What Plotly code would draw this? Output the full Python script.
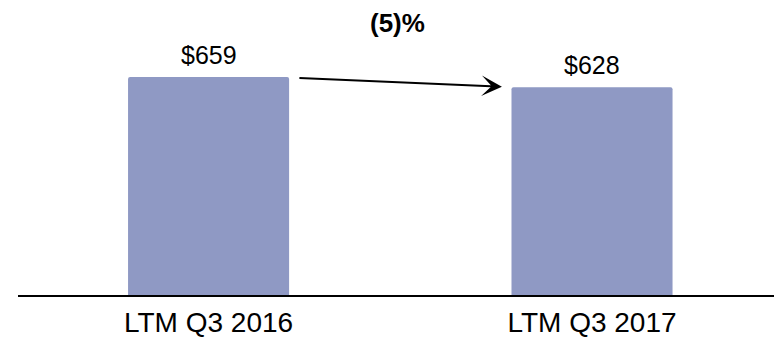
import plotly.graph_objects as go

categories = ["LTM Q3 2016", "LTM Q3 2017"]
values = [659, 628]
value_labels = ["$659", "$628"]
change_label = "(5)%"

BAR_COLOR = "#8F99C4"
FONT = "Liberation Sans, Arial, sans-serif"

fig = go.Figure()
fig.add_trace(go.Bar(
    x=[0, 1], y=values, width=0.42,
    marker=dict(color=BAR_COLOR, line=dict(width=0), cornerradius=2),
    hoverinfo="skip",
))

annotations = []
for i, (v, lab) in enumerate(zip(values, value_labels)):
    annotations.append(dict(
        x=i, y=v, xref="x", yref="y", text=lab, showarrow=False,
        yanchor="bottom", yshift=6,
        font=dict(family=FONT, size=25, color="black"),
    ))

# arrow from first bar top to second bar top
annotations.append(dict(
    x=0.765, y=values[1] + 2, ax=0.233, ay=values[0] - 3,
    xref="x", yref="y", axref="x", ayref="y",
    text="", showarrow=True, arrowhead=3, arrowsize=1.7, arrowwidth=2,
    arrowcolor="black",
))
annotations.append(dict(
    x=0.4915, y=822, xref="x", yref="y", text="<b>" + change_label + "</b>",
    showarrow=False, yanchor="middle",
    font=dict(family=FONT, size=26, color="black"),
))

fig.update_layout(
    width=774, height=339,
    margin=dict(l=18, r=0, t=0, b=44, autoexpand=False),
    paper_bgcolor="white", plot_bgcolor="white",
    showlegend=False,
    annotations=annotations,
    xaxis=dict(
        tickmode="array", tickvals=[0, 1], ticktext=categories,
        range=[-0.497, 1.4746],
        showline=True, linecolor="black", linewidth=2,
        showgrid=False, zeroline=False, ticks="",
        ticklabelstandoff=1, automargin=False,
        tickfont=dict(family=FONT, size=28, color="black"),
        fixedrange=True,
    ),
    yaxis=dict(
        range=[0, 892], visible=False, showgrid=False, zeroline=False,
        fixedrange=True, automargin=False,
    ),
)

fig.write_html("out.html")
